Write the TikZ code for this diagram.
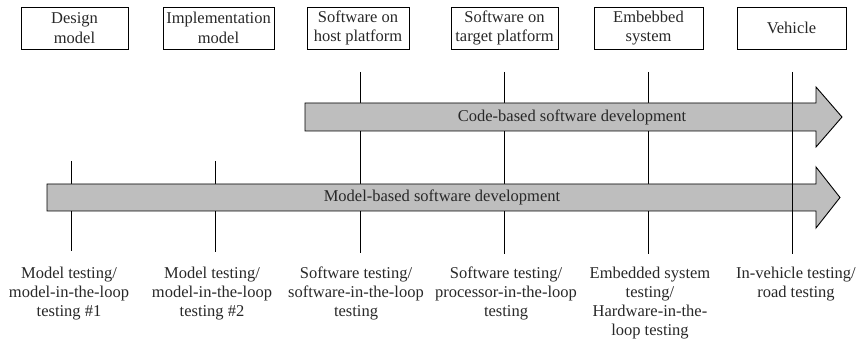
\documentclass[tikz,border=0pt]{standalone}
\usepackage{fontspec}
\setmainfont{Liberation Serif}
\definecolor{barfill}{RGB}{190,190,190}
\definecolor{inkc}{RGB}{40,40,40}
\begin{document}
\begin{tikzpicture}[x=1pt,y=-1pt,
  every node/.style={font=\fontsize{16.5}{19.5}\selectfont, text=inkc},
  stage/.style={draw=black, line width=0.9pt, minimum height=42pt, align=center, inner sep=1pt},
  testlabel/.style={align=center, anchor=north, inner sep=0pt, font=\fontsize{16.5}{19}\selectfont},
  bar/.style={draw=black, line width=0.9pt, fill=barfill, line join=miter},
  tick/.style={draw=black, line width=0.9pt}]
\useasboundingbox (0,0) rectangle (860,344);

% stage boxes
\node[stage, minimum width=107pt] (s1) at (74.5,28) {Design\\model};
\node[stage, minimum width=111pt] (s2) at (218.5,28) {Implementation\\model};
\node[stage, minimum width=102pt] (s3) at (358,28) {Software on\\host platform};
\node[stage, minimum width=107pt] (s4) at (504.5,28) {Software on\\target platform};
\node[stage, minimum width=109pt] (s5) at (648.5,28) {Embebbed\\system};
\node[stage, minimum width=109pt] (s6) at (791.5,28) {Vehicle};

% bottom labels
\node[testlabel] (t1) at (69,267) {Model testing/\\model-in-the-loop\\testing \#1};
\node[testlabel] (t2) at (212,267) {Model testing/\\model-in-the-loop\\testing \#2};
\node[testlabel] (t3) at (356,267) {Software testing/\\software-in-the-loop\\testing};
\node[testlabel] (t4) at (506,267) {Software testing/\\processor-in-the-loop\\testing};
\node[testlabel] (t5) at (650,267) {Embedded system\\testing/\\Hardware-in-the-\\loop testing};
\node[testlabel] (t6) at (796,267) {In-vehicle testing/\\road testing};

% line end points
\coordinate (a1) at (71,161);  \coordinate (b1) at (71,251);
\coordinate (a2) at (215,161); \coordinate (b2) at (215,252);
\coordinate (a3) at (360,72);  \coordinate (b3) at (360,253);
\coordinate (a4) at (504,72);  \coordinate (b4) at (504,254);
\coordinate (a5) at (648,72);  \coordinate (b5) at (648,254);
\coordinate (a6) at (792,72);  \coordinate (b6) at (792,254);

% vertical lines behind the bars
\draw[tick] (a1) -- (b1);
\draw[tick] (a2) -- (b2);
\draw[tick] (a3) -- (b3);
\draw[tick] (a4) -- (b4);
\draw[tick] (a5) -- (b5);

% bars
\draw[bar] (305,103) -- (816,103) -- (816,87) -- (842,117) -- (816,147) -- (816,131) -- (305,131) -- cycle;
\draw[bar] (47,184) -- (816,184) -- (816,167) -- (840,197.5) -- (816,228) -- (816,211) -- (47,211) -- cycle;
\node (code) at (572,117) {Code-based software development};
\node (model) at (442,197.5) {Model-based software development};

% vehicle line over the bars
\draw[tick] (a6) -- (b6);
\end{tikzpicture}
\end{document}
